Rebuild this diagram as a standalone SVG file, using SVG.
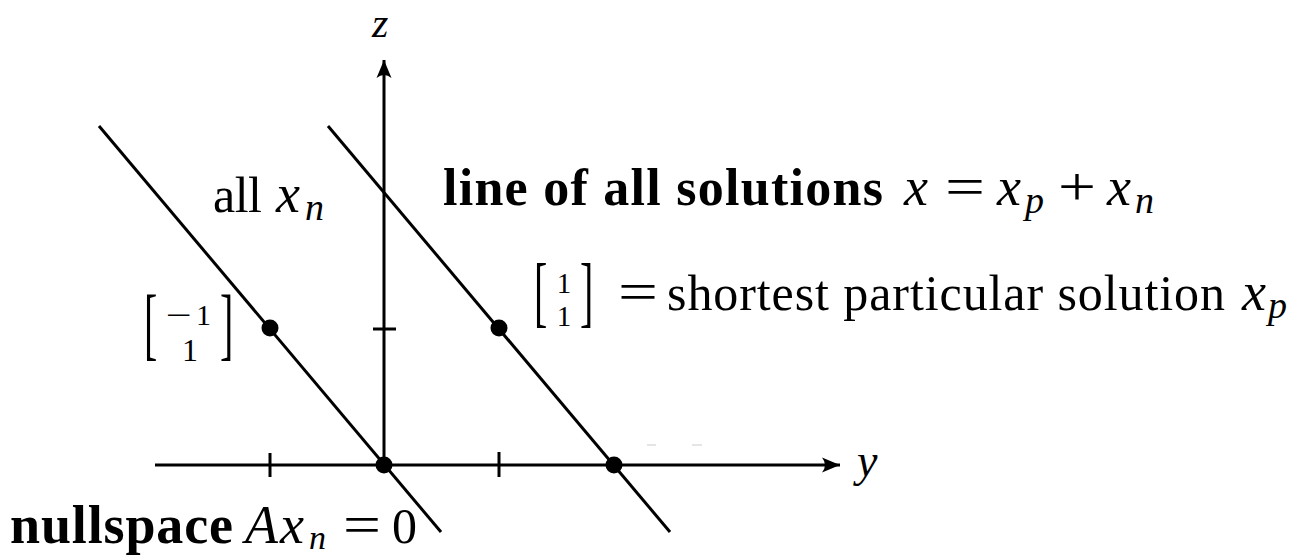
<svg xmlns="http://www.w3.org/2000/svg" width="1293" height="557" viewBox="0 0 1293 557">
<defs>
<style>
.t{font-family:"Liberation Serif","Times New Roman",serif;fill:#000}
.bf{font-weight:bold}
.it{font-style:italic}
.ln{stroke:#000;stroke-width:3;fill:none;stroke-linecap:butt}
.tick{stroke:#000;stroke-width:3}
.dot{fill:#000}
</style>
<marker id="arr" viewBox="-20 -10 22 20" refX="0" refY="0" markerWidth="22" markerHeight="20" markerUnits="userSpaceOnUse" orient="auto">
<path d="M0,0 L-18,-7.5 Q-12,0 -18,7.5 Z" fill="#000"/>
</marker>
</defs>
<rect width="1293" height="557" fill="#fff"/>
<g id="connectors">
<line id="y-axis" class="ln" x1="155" y1="465" x2="840" y2="465" marker-end="url(#arr)"/>
<line id="z-axis" class="ln" x1="384" y1="465" x2="384" y2="60" marker-end="url(#arr)"/>
<line id="nullspace-line" class="ln" x1="99" y1="126" x2="441" y2="532"/>
<line id="solutions-line" class="ln" x1="328" y1="126" x2="670" y2="532"/>
<line class="tick" x1="270" y1="453" x2="270" y2="477"/>
<line class="tick" x1="499" y1="452" x2="499" y2="477"/>
<line class="tick" x1="373" y1="329" x2="396" y2="329"/>
<line x1="647" y1="445" x2="656" y2="445" stroke="#ddd" stroke-width="1.5"/>
<line x1="692" y1="445" x2="702" y2="445" stroke="#ddd" stroke-width="1.5"/>
</g>
<g id="origin"><circle class="dot" cx="384" cy="465" r="8.5"/></g>
<g id="y-intercept"><circle class="dot" cx="614" cy="465" r="8.5"/></g>
<g id="null-point"><circle class="dot" cx="270" cy="328" r="8.5"/></g>
<g id="particular-point"><circle class="dot" cx="499" cy="328" r="8.5"/></g>
<g id="label-z"><text class="t it" x="372" y="37" font-size="42">z</text></g>
<g id="label-y"><text class="t it" x="857" y="476" font-size="46">y</text></g>
<g id="label-all-xn">
<text class="t" x="213" y="212" font-size="50" textLength="49">all</text>
<text class="t it" x="276" y="212" font-size="54">x</text>
<text class="t it" x="305" y="220" font-size="38">n</text>
</g>
<g id="label-solutions">
<text class="t bf" x="443" y="205" font-size="52" textLength="440">line of all solutions</text>
<text class="t it" x="904" y="205" font-size="54">x</text>
<text class="t" x="945" y="205" font-size="54" textLength="40" lengthAdjust="spacingAndGlyphs">=</text>
<text class="t it" x="997" y="205" font-size="54">x</text>
<text class="t it" x="1025" y="213" font-size="38">p</text>
<text class="t" x="1058" y="205" font-size="54" textLength="38" lengthAdjust="spacingAndGlyphs">+</text>
<text class="t it" x="1107" y="205" font-size="54">x</text>
<text class="t it" x="1135" y="213" font-size="38">n</text>
</g>
<g id="label-particular">
<text class="t" transform="translate(534,318) scale(1,1.96)" font-size="40">[</text>
<text class="t" transform="translate(580,318) scale(1,1.96)" font-size="40">]</text>
<text class="t" x="564" y="293" font-size="29" text-anchor="middle">1</text>
<text class="t" x="564" y="326" font-size="29" text-anchor="middle">1</text>
<text class="t" x="618" y="310" font-size="54" textLength="40" lengthAdjust="spacingAndGlyphs">=</text>
<text class="t" x="667" y="310" font-size="50" textLength="558">shortest particular solution</text>
<text class="t it" x="1242" y="310" font-size="54">x</text>
<text class="t it" x="1268" y="318" font-size="38">p</text>
</g>
<g id="label-null-vector">
<text class="t" transform="translate(144,349.5) scale(1,2.02)" font-size="40">[</text>
<text class="t" transform="translate(220,349.5) scale(1,2.02)" font-size="40">]</text>
<text class="t" x="166" y="325" font-size="30" textLength="26" lengthAdjust="spacingAndGlyphs">−</text>
<text class="t" x="196" y="325" font-size="30">1</text>
<text class="t" x="190" y="361" font-size="32" text-anchor="middle">1</text>
</g>
<g id="label-nullspace">
<text class="t bf" x="10" y="543" font-size="54" textLength="223">nullspace</text>
<text class="t it" x="245" y="543" font-size="54">A</text>
<text class="t it" x="280" y="543" font-size="54">x</text>
<text class="t it" x="309" y="549" font-size="34">n</text>
<text class="t" x="343" y="543" font-size="54" textLength="38" lengthAdjust="spacingAndGlyphs">=</text>
<text class="t" x="392" y="543" font-size="50">0</text>
</g>
</svg>
